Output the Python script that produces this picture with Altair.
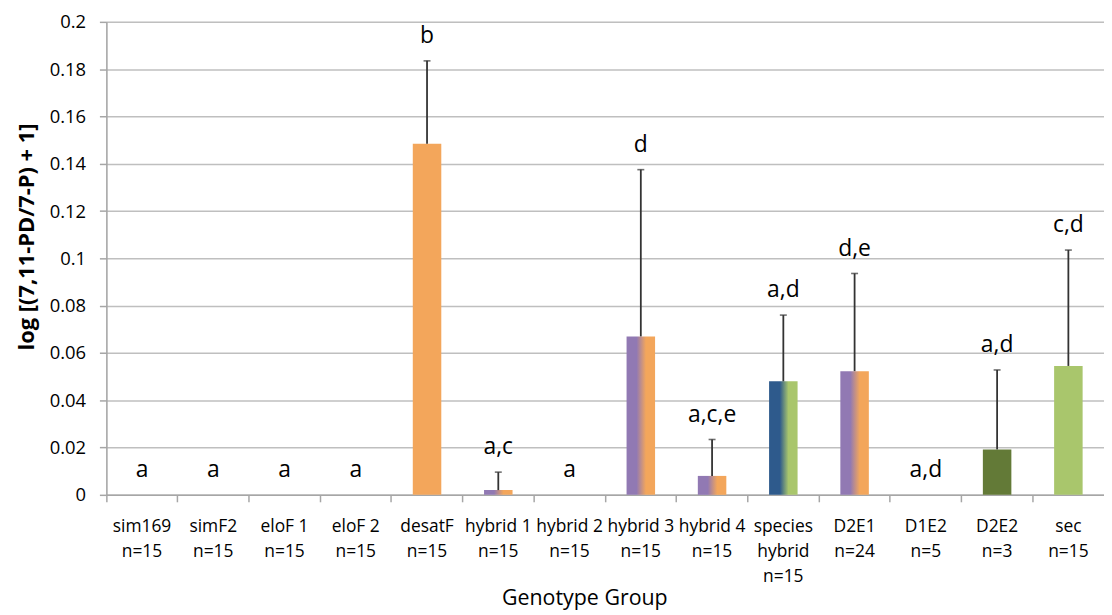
import altair as alt
import pandas as pd

names = ["sim169", "simF2", "eloF 1", "eloF 2", "desatF", "hybrid 1", "hybrid 2",
         "hybrid 3", "hybrid 4", "species hybrid", "D2E1", "D1E2", "D2E2", "sec"]
ns = [15, 15, 15, 15, 15, 15, 15, 15, 15, 15, 24, 5, 3, 15]
means = [0, 0, 0, 0, 0.1485, 0.002, 0, 0.067, 0.008, 0.048, 0.0523, 0, 0.0192, 0.0545]
errs = [0, 0, 0, 0, 0.035, 0.0076, 0, 0.0705, 0.0154, 0.028, 0.0413, 0, 0.0336, 0.049]
letters = ["a", "a", "a", "a", "b", "a,c", "a", "d", "a,c,e", "a,d", "d,e", "a,d", "a,d", "c,d"]
genotype_kind = ["sim", "sim", "elo", "elo", "desat", "hybrid", "hybrid", "hybrid", "hybrid",
                 "species", "hybrid", "hybrid", "dkgreen", "sec"]

labels = [n.replace("species hybrid", "species|hybrid") + "|n=" + str(k) for n, k in zip(names, ns)]
df = pd.DataFrame({
    "label": labels,
    "mean": means,
    "err": errs,
    "upper": [m + e for m, e in zip(means, errs)],
    "letter": letters,
    "kind": genotype_kind,
})

FONT = "Open Sans"
PURPLE = "#9179B3"
ORANGE = "#F3A65B"
GREEN = "#A9C66C"
styles = {
    "desat": ORANGE,
    "hybrid": {"gradient": "linear", "stops": [
        {"offset": 0, "color": PURPLE}, {"offset": 0.35, "color": PURPLE},
        {"offset": 0.68, "color": ORANGE}, {"offset": 1, "color": ORANGE}]},
    "species": {"gradient": "linear", "stops": [
        {"offset": 0, "color": "#2E5A8C"}, {"offset": 0.38, "color": "#2E5A8C"},
        {"offset": 0.68, "color": GREEN}, {"offset": 1, "color": GREEN}]},
    "dkgreen": "#637A37",
    "sec": GREEN,
}

x_enc = alt.X("label:N", sort=labels, title="Genotype Group",
              scale=alt.Scale(paddingInner=0, paddingOuter=0),
              axis=alt.Axis(labelExpr="split(datum.label, '|')", labelAngle=0,
                            labelFont=FONT, labelFontSize=17.5, labelColor="black",
                            labelLineHeight=25, labelPadding=25, labelBaseline="middle",
                            labelOverlap=False,
                            bandPosition=0, tickSize=7, tickColor="#A6A6A6", tickWidth=1.5,
                            domainColor="#A6A6A6", domainWidth=1.5,
                            titleFont=FONT, titleFontSize=21.5, titleFontWeight="normal",
                            titleColor="black", titleX=481, titleY=110,
                            titleBaseline="alphabetic", titleAnchor="start", titleAlign="center"))
y_scale = alt.Scale(domain=[0, 0.2], nice=False)
y_axis = alt.Axis(values=[0, 0.02, 0.04, 0.06, 0.08, 0.1, 0.12, 0.14, 0.16, 0.18, 0.2],
                  format=".2~f", labelFont=FONT, labelFontSize=18.5, labelColor="black",
                  labelPadding=14, tickSize=7, tickColor="#A6A6A6", tickWidth=1.5,
                  domainColor="#A6A6A6", domainWidth=1.5,
                  grid=True, gridColor="#BFBFBF", gridWidth=1.5,
                  title="log [(7,11-PD/7-P) + 1]", titleFont=FONT, titleFontSize=22,
                  titleFontWeight="bold", titleColor="black", titleX=-80, titleY=216,
                  titleAngle=-90, titleAlign="center", titleBaseline="middle")


def yenc(field):
    return alt.Y(field, type="quantitative", scale=y_scale, axis=y_axis)


base = alt.Chart(df)
layers = []
for kind, fill in styles.items():
    layers.append(
        base.transform_filter(alt.datum.kind == kind)
        .mark_bar(fill=fill, width=alt.RelativeBandSize(0.4))
        .encode(x=x_enc, y=yenc("mean"))
    )

err_rule = base.transform_filter(alt.datum.err > 0).mark_rule(
    color="#333333", strokeWidth=1.8).encode(
    x=x_enc, y=yenc("mean"), y2="upper:Q")
err_cap = base.transform_filter(alt.datum.err > 0).mark_tick(
    color="#333333", thickness=1.6, size=7, orient="horizontal").encode(
    x=x_enc, y=yenc("upper"))
text = base.mark_text(font=FONT, fontSize=23, color="black", baseline="alphabetic",
                      dy=-18).encode(x=x_enc, y=yenc("upper"), text="letter:N")

chart = alt.layer(*layers, err_rule, err_cap, text).properties(
    width=1004, height=476,
    autosize=alt.AutoSizeParams(type="none"),
    padding={"left": 99, "top": 12, "right": 0, "bottom": 119},
).configure_view(stroke=None).configure(background="white")

chart.save("out.html", embed_options={"renderer": "svg", "actions": False})
